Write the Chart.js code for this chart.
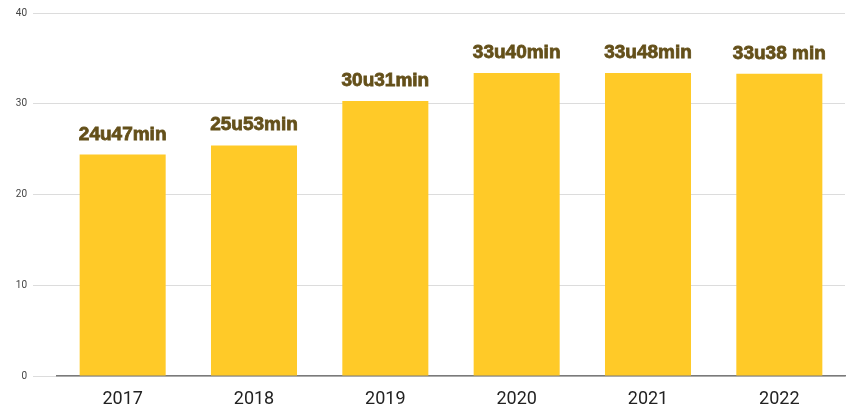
<!DOCTYPE html>
<html>
<head>
<meta charset="utf-8">
<script src="https://cdn.jsdelivr.net/npm/chart.js@4/dist/chart.umd.min.js"></script>
<style>
  html, body { margin: 0; padding: 0; background: #fff; }
  #wrap { width: 858px; height: 408px; }
</style>
</head>
<body>
<div id="wrap"><canvas id="chart" width="858" height="408"></canvas></div>
<script>
// values (minutes per day)
const years = ['2017', '2018', '2019', '2020', '2021', '2022'];
const minutes = [24.4, 25.4, 30.3, 33.4, 33.4, 33.3];
const barLabels = ['24u47min', '25u53min', '30u31min', '33u40min', '33u48min', '33u38 min'];
const yTicks = [0, 10, 20, 30, 40];

// write the text above each bar
const topLabels = {
    id: 'topLabels',
    afterDatasetsDraw(chart) {
        const ctx = chart.ctx;
        const meta = chart.getDatasetMeta(0);
        ctx.save();
        ctx.font = 'bold 19px "Liberation Sans"';
        ctx.fillStyle = '#64501a';
        ctx.strokeStyle = '#64501a';
        ctx.lineWidth = 0.8;
        ctx.textAlign = 'center';
        ctx.textBaseline = 'alphabetic';
        meta.data.forEach((bar, i) => {
            ctx.fillText(barLabels[i], bar.x, bar.y - 15);
            ctx.strokeText(barLabels[i], bar.x, bar.y - 15);
        });
        ctx.restore();
    }
};

new Chart(document.getElementById('chart'), {
    type: 'bar',
    data: {
        labels: years,
        datasets: [{
            data: minutes,
            backgroundColor: '#FFCA28',
            categoryPercentage: 1,
            barPercentage: 0.655
        }]
    },
    options: {
        responsive: false,
        animation: false,
        layout: { padding: { top: 13, right: 13, bottom: 0, left: 0 } },
        plugins: { legend: { display: false }, tooltip: { enabled: false } },
        scales: {
            x: {
                afterFit(scale) { scale.height = 32; },
                grid: { display: false },
                border: { display: true, color: '#7a7a7a', width: 1.5 },
                ticks: { color: '#222', font: { family: 'Roboto', size: 18 }, padding: 5 }
            },
            y: {
                min: 0,
                max: 40,
                afterBuildTicks(scale) { scale.ticks = yTicks.map(v => ({ value: v })); },
                afterFit(scale) { scale.width = 57; },
                border: { display: false },
                grid: { color: '#dcdcdc', lineWidth: 1, tickLength: 24 },
                ticks: { color: '#444', font: { family: 'Roboto', size: 10 }, padding: 6 }
            }
        }
    },
    plugins: [topLabels]
});
</script>
</body>
</html>
